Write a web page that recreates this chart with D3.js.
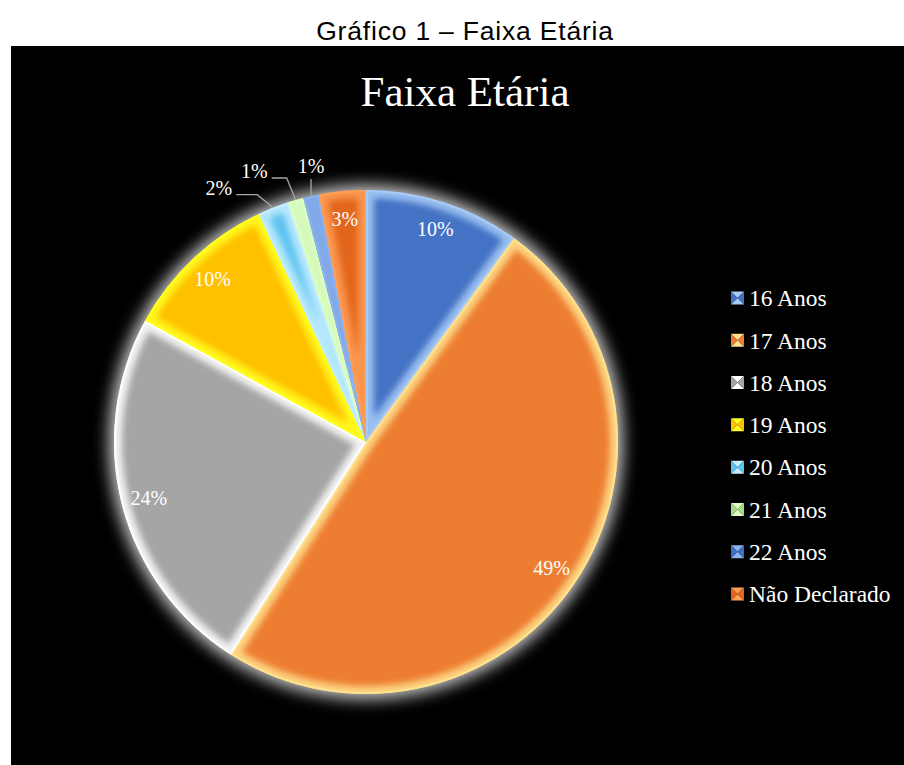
<!DOCTYPE html>
<html>
<head>
<meta charset="utf-8">
<script src="https://cdn.jsdelivr.net/npm/d3@7/dist/d3.min.js"></script>
<style>
  html, body { margin: 0; padding: 0; background: #fff; }
  svg { display: block; }
</style>
</head>
<body>
<svg id="chart" width="904" height="765"></svg>
<script>
// Age groups and their share of respondents (%)
const categories = ["16 Anos", "17 Anos", "18 Anos", "19 Anos", "20 Anos", "21 Anos", "22 Anos", "Não Declarado"];
const values = [10, 49, 24, 10, 2, 1, 1, 3];
const percentLabels = ["10%", "49%", "24%", "10%", "2%", "1%", "1%", "3%"];

// Slice fills and the lighter tone used for the bevelled edges
const baseColors = ["#4472C4", "#ED7D31", "#A5A5A5", "#FFC000", "#5EC2F0", "#A6DC86", "#3F6DC2", "#E2661C"];
const edgeColors = ["#A8CCF7", "#FFE38E", "#FFFFFF", "#FFFF20", "#C4EEFF", "#DDFFC4", "#8DB4EE", "#FF9E55"];

const svg = d3.select("#chart");
const W = 904, H = 765;

// caption above the panel
svg.append("text")
  .attr("x", 465).attr("y", 40)
  .attr("text-anchor", "middle")
  .attr("font-family", "Liberation Sans, Arial, sans-serif")
  .attr("font-size", 26.5)
  .attr("letter-spacing", 0.8)
  .attr("fill", "#000")
  .text("Gráfico 1 – Faixa Etária");

// black chart panel
svg.append("rect")
  .attr("x", 11).attr("y", 46)
  .attr("width", W - 11).attr("height", H - 46)
  .attr("fill", "#000");

svg.append("text")
  .attr("x", 465).attr("y", 106)
  .attr("text-anchor", "middle")
  .attr("font-family", "Liberation Serif, Times New Roman, serif")
  .attr("font-size", 43)
  .attr("fill", "#fff")
  .text("Faixa Etária");

const defs = svg.append("defs");
defs.append("filter").attr("id", "halo")
  .attr("x", "-20%").attr("y", "-20%").attr("width", "140%").attr("height", "140%")
  .append("feGaussianBlur").attr("stdDeviation", 8);
defs.append("filter").attr("id", "soft")
  .attr("x", "-20%").attr("y", "-20%").attr("width", "140%").attr("height", "140%")
  .append("feGaussianBlur").attr("stdDeviation", 3);

const cx = 366, cy = 442, R = 252;
const data = categories.map((c, i) => ({ cat: c, value: values[i], label: percentLabels[i], i }));

const pie = d3.pie().sort(null).value(d => d.value).startAngle(0).endAngle(2 * Math.PI);
const arcs = pie(data);
const arc = d3.arc().innerRadius(0).outerRadius(R);

const g = svg.append("g").attr("transform", `translate(${cx},${cy})`);

// soft light halo around the whole pie
g.append("circle")
  .attr("r", R + 5)
  .attr("fill", "#c8c8c8")
  .attr("filter", "url(#halo)");

// slices with bevelled edges
arcs.forEach((a, k) => {
  const id = "clip" + k;
  defs.append("clipPath").attr("id", id)
    .append("path").attr("d", arc(a)).attr("transform", `translate(${cx},${cy})`);
  const s = svg.append("g").attr("clip-path", `url(#${id})`);
  const inner = s.append("g").attr("transform", `translate(${cx},${cy})`);
  inner.append("path").attr("d", arc(a)).attr("fill", baseColors[a.data.i]);
  inner.append("path").attr("d", arc(a))
    .attr("fill", "none")
    .attr("stroke", edgeColors[a.data.i])
    .attr("stroke-width", 16)
    .attr("stroke-opacity", 0.85)
    .attr("stroke-linejoin", "round")
    .attr("filter", "url(#soft)");
  inner.append("path").attr("d", arc(a))
    .attr("fill", "none")
    .attr("stroke", edgeColors[a.data.i])
    .attr("stroke-opacity", 0.9)
    .attr("stroke-width", 4);
});

// percentage labels
const labelArc = d3.arc().innerRadius(R * 0.89).outerRadius(R * 0.89);
const outside = { "20 Anos": { ex: -16, ey: -13, hx: -21, tx: -4, ty: 0 },
                  "21 Anos": { ex: -9, ey: -22, hx: -15, tx: -4, ty: 0 },
                  "22 Anos": { ex: 0, ey: -17, hx: 0, tx: 0, ty: -6 } };
const lg = svg.append("g").attr("transform", `translate(${cx},${cy})`);
const labelFont = "Liberation Serif, Times New Roman, serif";
arcs.forEach(a => {
  const d = a.data;
  if (outside[d.cat]) {
    const o = outside[d.cat];
    const mid = (a.startAngle + a.endAngle) / 2;
    const px = R * Math.sin(mid), py = -R * Math.cos(mid);
    const e1 = [px + o.ex, py + o.ey];
    const e2 = [e1[0] + o.hx, e1[1]];
    lg.append("path")
      .attr("d", d3.line()([[px, py], e1, e2]))
      .attr("fill", "none")
      .attr("stroke", "#a6a6a6")
      .attr("stroke-width", 1.3);
    lg.append("text")
      .attr("x", e2[0] + o.tx).attr("y", e2[1] + o.ty)
      .attr("text-anchor", o.hx === 0 ? "middle" : "end")
      .attr("font-family", labelFont).attr("font-size", 20)
      .attr("fill", "#fff")
      .text(d.label);
  } else {
    const [x, y] = labelArc.centroid(a);
    lg.append("text")
      .attr("x", x).attr("y", y)
      .attr("dy", "0.35em")
      .attr("text-anchor", "middle")
      .attr("font-family", labelFont).attr("font-size", 20)
      .attr("fill", "#fff")
      .text(d.label);
  }
});

// legend
const legendY = d3.scalePoint().domain(categories).range([298, 594]);
const leg = svg.append("g");
categories.forEach((c, i) => {
  const y = legendY(c);
  const x0 = 731, s = 13, y0 = y - s / 2;
  const row = leg.append("g");
  const tri = (pts, fill) => row.append("path").attr("d", d3.line()(pts) + "Z").attr("fill", fill);
  const m = [x0 + s / 2, y0 + s / 2];
  tri([[x0, y0], [x0 + s, y0], m], edgeColors[i]);
  tri([[x0, y0 + s], [x0 + s, y0 + s], m], edgeColors[i]);
  tri([[x0, y0], [x0, y0 + s], m], baseColors[i]);
  tri([[x0 + s, y0], [x0 + s, y0 + s], m], baseColors[i]);
  row.append("text")
    .attr("x", 749).attr("y", y)
    .attr("dy", "0.35em")
    .attr("font-family", labelFont)
    .attr("font-size", 23.5)
    .attr("fill", "#fff")
    .text(c);
});
</script>
</body>
</html>
